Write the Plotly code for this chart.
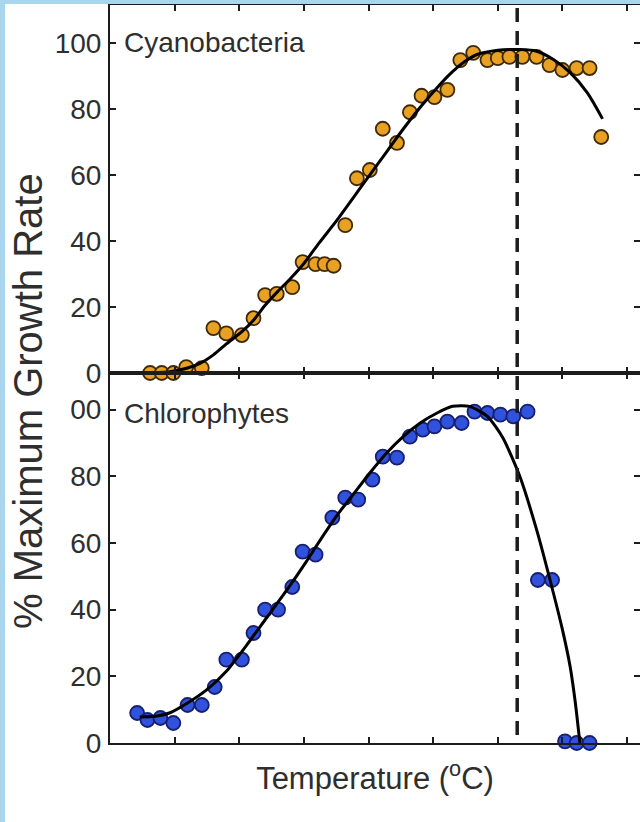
import plotly.graph_objects as go
from plotly.subplots import make_subplots

# ---------------- data ----------------
cyano_temp = [3.1, 4.0, 4.9, 5.9, 7.1, 8.0, 9.0, 10.2, 11.1, 12.0, 12.9, 14.1, 14.9, 15.9,
              16.6, 17.3, 18.2, 19.1, 20.1, 21.1, 22.2, 23.2, 24.1, 25.1, 26.1, 27.1,
              28.1, 29.2, 30.0, 30.9, 31.9, 33.0, 34.0, 35.0, 36.1, 37.1, 38.0]
cyano_rate = [0.0, 0.0, 0.0, 1.8, 1.5, 13.6, 12.0, 11.5, 16.6, 23.6, 24.0, 26.0, 33.6, 33.0,
              33.0, 32.5, 44.8, 59.0, 61.5, 74.0, 69.7, 79.0, 84.0, 83.6, 85.8, 94.8,
              97.0, 94.8, 95.4, 95.8, 95.8, 95.8, 93.3, 91.8, 92.4, 92.4, 71.5]

cyano_fit_temp = [2.6, 4.5, 6.0, 7.0, 8.0, 9.0, 10.2, 11.1, 12.0, 13.0, 14.0, 15.0, 16.2,
                  17.5, 18.8, 20.0, 21.4, 22.7, 24.0, 25.2, 26.5, 27.5, 28.4, 30.0, 31.7,
                  33.0, 34.3, 35.6, 36.9, 38.1]
cyano_fit_rate = [0.0, 0.3, 1.5, 3.0, 5.5, 8.8, 12.5, 16.0, 20.5, 24.8, 28.8, 33.2, 39.5,
                  46.0, 53.0, 59.5, 67.0, 74.0, 80.5, 86.0, 91.3, 94.5, 96.5, 97.8, 98.0,
                  97.5, 95.0, 91.0, 85.0, 77.0]

chloro_temp = [2.1, 2.9, 3.9, 4.9, 6.0, 7.1, 8.1, 9.0, 10.2, 11.1, 12.0, 13.0, 14.1, 14.9,
               15.9, 17.2, 18.2, 19.2, 20.3, 21.1, 22.2, 23.2, 24.2, 25.1, 26.1, 27.2,
               28.2, 29.2, 30.2, 31.2, 32.3, 33.1, 34.2, 35.2, 36.1, 37.1]
chloro_rate = [9.0, 6.9, 7.5, 6.0, 11.4, 11.4, 16.8, 25.0, 25.0, 33.0, 40.0, 40.0, 46.8, 57.4,
               56.5, 67.6, 73.6, 73.0, 79.0, 85.9, 85.6, 91.9, 94.0, 95.0, 96.4, 96.0,
               99.4, 99.0, 98.5, 98.0, 99.4, 48.9, 48.9, 0.5, 0.0, 0.0]

chloro_fit_temp = [2.3, 3.5, 4.6, 6.0, 7.5, 9.0, 10.6, 12.1, 13.7, 15.2, 16.2, 17.6, 18.9,
                   20.1, 21.4, 22.7, 24.0, 25.3, 26.5, 27.8, 29.2, 30.4, 31.7, 33.0, 34.3,
                   35.0, 35.6, 36.0, 36.35]
chloro_fit_rate = [7.8, 8.0, 9.0, 12.0, 16.0, 21.5, 29.5, 37.5, 46.0, 54.5, 60.5, 68.5, 75.0,
                   81.0, 87.0, 92.0, 96.0, 99.0, 101.0, 101.0, 98.0, 91.5, 80.0, 64.0, 45.0,
                   34.0, 22.8, 12.0, 0.0]

optimum_temp = 31.5

x_tick_vals = [5, 10, 15, 20, 25, 30, 35, 40]
y_tick_vals = [0, 20, 40, 60, 80, 100]
top_tick_text = ["0", "20", "40", "60", "80", "100"]
bottom_tick_text = ["0", "20", "40", "60", "80", "00"]

panel_labels = ["Cyanobacteria", "Chlorophytes"]
x_title = "Temperature (<sup>o</sup>C)"
y_title = "% Maximum Growth Rate"

# ---------------- figure ----------------
W, H = 640, 822
ML, MR, MT, MB = 110, 0, 5, 79
plot_w = W - ML - MR
plot_h = H - MT - MB
split = (H - MB - 373) / plot_h   # pixel 373 is the divider

fig = make_subplots(rows=2, cols=1, shared_xaxes=True, vertical_spacing=0)

orange = "#e9a124"
orange_edge = "#3f2a06"
blue = "#3152dc"
blue_edge = "#16206e"
ink = "#1c1c1c"
text_col = "#2e2e2e"

fig.add_trace(go.Scatter(x=cyano_temp, y=cyano_rate, mode="markers",
                         marker=dict(size=14, color=orange,
                                     line=dict(color=orange_edge, width=1.8)),
                         cliponaxis=False, name="Cyanobacteria data"), row=1, col=1)
fig.add_trace(go.Scatter(x=cyano_fit_temp, y=cyano_fit_rate, mode="lines",
                         line=dict(color="black", width=3, shape="spline", smoothing=0.8),
                         name="Cyanobacteria fit"), row=1, col=1)

fig.add_trace(go.Scatter(x=chloro_temp, y=chloro_rate, mode="markers",
                         marker=dict(size=14, color=blue,
                                     line=dict(color=blue_edge, width=1.8)),
                         cliponaxis=False, name="Chlorophytes data"), row=2, col=1)
fig.add_trace(go.Scatter(x=chloro_fit_temp, y=chloro_fit_rate, mode="lines",
                         line=dict(color="black", width=3, shape="spline", smoothing=0.6),
                         name="Chlorophytes fit"), row=2, col=1)

axis_common = dict(showline=True, linecolor=ink, linewidth=2, mirror="allticks",
                   ticks="inside", ticklen=6, tickwidth=2, tickcolor=ink,
                   showgrid=False, zeroline=False)

fig.update_xaxes(range=[0, 41], tickvals=x_tick_vals, showticklabels=False, **axis_common)
fig.update_yaxes(range=[0, 111.5], tickvals=y_tick_vals,
                 tickfont=dict(size=28, color=text_col), ticklabelstandoff=1,
                 **axis_common)
fig.update_layout(
    yaxis=dict(domain=[split, 1], ticktext=top_tick_text, range=[0, 111.5]),
    yaxis2=dict(domain=[0, split], ticktext=bottom_tick_text, range=[0, 111]),
    xaxis2=dict(title=dict(text=x_title, font=dict(size=31, color=text_col), standoff=23)),
)

# dashed optimum line spanning both panels
fig.add_shape(type="line", xref="x", yref="paper", x0=optimum_temp, x1=optimum_temp,
              y0=(H - MB - 735) / plot_h, y1=1.0,
              line=dict(color=ink, width=3.5, dash="14px,9px"), layer="above")

# panel labels
fig.add_annotation(text=panel_labels[0], xref="paper", yref="y", x=(122 - ML) / plot_w, y=100,
                   xanchor="left", yanchor="middle", showarrow=False,
                   font=dict(size=28, color=text_col))
fig.add_annotation(text=panel_labels[1], xref="paper", yref="y2", x=(122 - ML) / plot_w, y=99,
                   xanchor="left", yanchor="middle", showarrow=False,
                   font=dict(size=28, color=text_col))

# y title
fig.add_annotation(text=y_title, xref="paper", yref="paper",
                   x=(28 - ML) / plot_w, y=(H - MB - 401) / plot_h,
                   xanchor="center", yanchor="middle", textangle=-90, showarrow=False,
                   font=dict(size=40, color=text_col))

# light blue frame strips (left and top) of the original picture
frame_col = "#a9d5ef"
fig.add_shape(type="rect", xref="paper", yref="paper",
              x0=-ML / plot_w, x1=(5 - ML) / plot_w, y0=-MB / plot_h, y1=1 + MT / plot_h,
              fillcolor=frame_col, line=dict(width=0), layer="above")
fig.add_shape(type="rect", xref="paper", yref="paper",
              x0=-ML / plot_w, x1=1.0, y0=1.0 + 1.0 / plot_h, y1=1 + MT / plot_h,
              fillcolor=frame_col, line=dict(width=0), layer="above")

fig.update_layout(width=W, height=H, margin=dict(l=ML, r=MR, t=MT, b=MB, autoexpand=False),
                  paper_bgcolor="white", plot_bgcolor="white", showlegend=False,
                  font=dict(family="Liberation Sans, Arial, sans-serif", color=text_col))

fig.write_html("out.html", config={"displayModeBar": False},
               post_script="document.body.style.margin='0px';document.body.style.overflow='hidden';")
